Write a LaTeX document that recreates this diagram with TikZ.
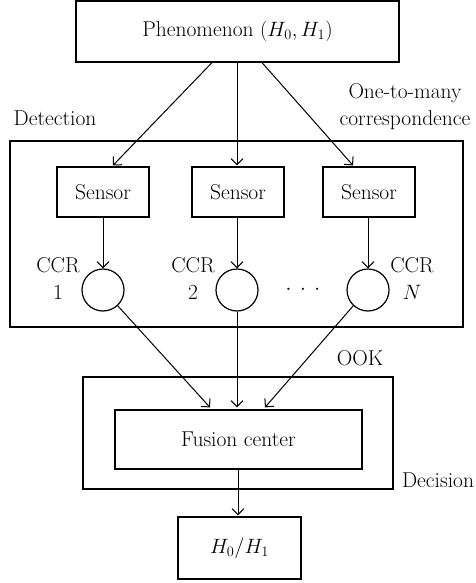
\documentclass[tikz,border=0pt]{standalone}
\usetikzlibrary{arrows.meta,calc}
\begin{document}
\begin{tikzpicture}[x=1pt,y=-1pt,
  every node/.style={font=\fontsize{21.5}{25}\selectfont},
  boxnode/.style={draw,line width=1.2pt,inner sep=0pt,anchor=center},
  frame/.style={draw,line width=1.2pt},
  circ/.style={draw,circle,line width=1.2pt,minimum size=42pt,inner sep=0pt},
  lbl/.style={inner sep=0pt,anchor=center},
  arr/.style={line width=1pt,-{Straight Barb[length=6pt,width=12pt,line width=1pt]}}
]
\useasboundingbox (0,0) rectangle (475,583);

% frames
\draw[frame] (10,141) rectangle (463,327);
\draw[frame] (83,377) rectangle (393,489);

% boxes
\node[boxnode,minimum width=323pt,minimum height=61pt] (phen) at (237.5,31.5) {Phenomenon $(H_0, H_1)$};
\node[boxnode,minimum width=92pt,minimum height=50pt] (s1) at (103,192) {Sensor};
\node[boxnode,minimum width=92pt,minimum height=50pt] (s2) at (238,192) {Sensor};
\node[boxnode,minimum width=92pt,minimum height=50pt] (s3) at (369,192) {Sensor};
\node[circ] (c1) at (103,290) {};
\node[circ] (c2) at (237,290) {};
\node[circ] (c3) at (368,290) {};
\node[boxnode,minimum width=247pt,minimum height=59pt] (fus) at (238.5,439.5) {Fusion center};
\node[boxnode,minimum width=123pt,minimum height=62pt] (res) at (239.5,548) {$H_0/H_1$};

% labels
\node[lbl] (ldet) at (55,118) {Detection};
\node[lbl] (lone) at (405,93) {One-to-many};
\node[lbl] (lcorr) at (405,120) {correspondence};
\node[lbl] (ccr1) at (58,265) {CCR};
\node[lbl] (n1) at (58,292) {1};
\node[lbl] (ccr2) at (193,265) {CCR};
\node[lbl] (n2) at (193,292) {2};
\node[lbl] (ccr3) at (412,265) {CCR};
\node[lbl] (n3) at (412,292) {$N$};
\node[lbl] (dots) at (303,290) {$\cdotp\mkern4.5mu\cdotp\mkern4.5mu\cdotp$};
\node[lbl] (look) at (360,358) {OOK};
\node[lbl] (ldec) at (438,480) {Decision};

% connectors
\coordinate (p1) at ($(phen.south)+(-25.5,0)$);
\coordinate (p3) at ($(phen.south)+(24.5,0)$);
\coordinate (t1) at ($(s1.north)+(10,-1)$);
\coordinate (t3) at ($(s3.north)+(-16,-1)$);
\draw[arr] (p1) -- (t1);
\draw[arr] (phen.south -| s2.north) ++(-1,0) -- ($(s2.north)+(-1,-1)$);
\draw[arr] (p3) -- (t3);

\draw[arr] (s1.south) -- (c1.north);
\draw[arr] (s2.south -| c2.north) -- (c2.north);
\draw[arr] (s3.south -| c3.north) -- (c3.north);

\coordinate (f1) at ($(fus.north)+(-28.5,-2)$);
\coordinate (f2) at ($(fus.north)+(-1.5,-2)$);
\coordinate (f3) at ($(fus.north)+(26.5,-2)$);
\draw[arr] (c1.-47) -- (f1);
\draw[arr] (c2.south) -- (f2);
\draw[arr] (c3.-133) -- (f3);

\draw[arr] (fus.south -| res.north) ++(-1.5,0) -- ($(res.north)+(-1.5,-1)$);
\end{tikzpicture}
\end{document}
